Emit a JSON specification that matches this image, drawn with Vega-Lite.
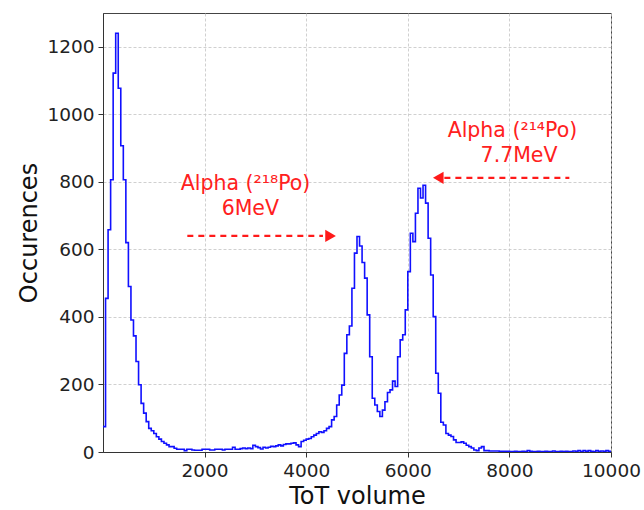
{
  "$schema": "https://vega.github.io/schema/vega-lite/v6.json",
  "width": 508,
  "height": 439,
  "autosize": {"type": "none"},
  "padding": {"left": 103, "top": 13, "right": 33, "bottom": 58},
  "background": "white",
  "config": {
    "font": "DejaVu Sans",
    "view": {"stroke": "#444", "strokeWidth": 1},
    "axis": {
      "labelFont": "DejaVu Sans",
      "titleFont": "DejaVu Sans",
      "labelFontSize": 18.5,
      "titleFontSize": 24,
      "titleFontWeight": "normal",
      "labelColor": "#222",
      "titleColor": "#111",
      "domainColor": "#333",
      "tickColor": "#333",
      "tickSize": 5,
      "gridColor": "#c4c4c4",
      "gridDash": [3, 2],
      "gridWidth": 0.8,
      "labelFlush": false,
      "labelOverlap": false,
      "format": "d"
    }
  },
  "datasets": {
    "hist": [
      {"tot": 0, "count": 75}, {"tot": 50, "count": 455}, {"tot": 100, "count": 658}, {"tot": 150, "count": 806},
      {"tot": 200, "count": 1122}, {"tot": 250, "count": 1240}, {"tot": 300, "count": 1077}, {"tot": 350, "count": 907},
      {"tot": 400, "count": 806}, {"tot": 450, "count": 620}, {"tot": 500, "count": 490}, {"tot": 550, "count": 391},
      {"tot": 600, "count": 344}, {"tot": 650, "count": 268}, {"tot": 700, "count": 199}, {"tot": 750, "count": 144},
      {"tot": 800, "count": 115}, {"tot": 850, "count": 90}, {"tot": 900, "count": 70}, {"tot": 950, "count": 63},
      {"tot": 1000, "count": 55}, {"tot": 1050, "count": 45}, {"tot": 1100, "count": 38}, {"tot": 1150, "count": 31},
      {"tot": 1200, "count": 26}, {"tot": 1250, "count": 21}, {"tot": 1300, "count": 16}, {"tot": 1350, "count": 16},
      {"tot": 1400, "count": 11}, {"tot": 1450, "count": 8}, {"tot": 1500, "count": 8}, {"tot": 1550, "count": 8},
      {"tot": 1600, "count": 4}, {"tot": 1650, "count": 8}, {"tot": 1700, "count": 8}, {"tot": 1750, "count": 6},
      {"tot": 1800, "count": 5}, {"tot": 1850, "count": 5}, {"tot": 1900, "count": 5}, {"tot": 1950, "count": 8},
      {"tot": 2000, "count": 8}, {"tot": 2050, "count": 8}, {"tot": 2100, "count": 6}, {"tot": 2150, "count": 6},
      {"tot": 2200, "count": 8}, {"tot": 2250, "count": 8}, {"tot": 2300, "count": 8}, {"tot": 2350, "count": 6},
      {"tot": 2400, "count": 8}, {"tot": 2450, "count": 8}, {"tot": 2500, "count": 8}, {"tot": 2550, "count": 14},
      {"tot": 2600, "count": 8}, {"tot": 2650, "count": 8}, {"tot": 2700, "count": 10}, {"tot": 2750, "count": 12},
      {"tot": 2800, "count": 10}, {"tot": 2850, "count": 12}, {"tot": 2900, "count": 10}, {"tot": 2950, "count": 20},
      {"tot": 3000, "count": 16}, {"tot": 3050, "count": 13}, {"tot": 3100, "count": 9}, {"tot": 3150, "count": 14},
      {"tot": 3200, "count": 12}, {"tot": 3250, "count": 14}, {"tot": 3300, "count": 17}, {"tot": 3350, "count": 16},
      {"tot": 3400, "count": 18}, {"tot": 3450, "count": 21}, {"tot": 3500, "count": 18}, {"tot": 3550, "count": 22},
      {"tot": 3600, "count": 24}, {"tot": 3650, "count": 24}, {"tot": 3700, "count": 26}, {"tot": 3750, "count": 27},
      {"tot": 3800, "count": 21}, {"tot": 3850, "count": 16}, {"tot": 3900, "count": 31}, {"tot": 3950, "count": 35},
      {"tot": 4000, "count": 38}, {"tot": 4050, "count": 40}, {"tot": 4100, "count": 45}, {"tot": 4150, "count": 50},
      {"tot": 4200, "count": 55}, {"tot": 4250, "count": 60}, {"tot": 4300, "count": 58}, {"tot": 4350, "count": 63},
      {"tot": 4400, "count": 70}, {"tot": 4450, "count": 75}, {"tot": 4500, "count": 95}, {"tot": 4550, "count": 105},
      {"tot": 4600, "count": 139}, {"tot": 4650, "count": 169}, {"tot": 4700, "count": 198}, {"tot": 4750, "count": 292},
      {"tot": 4800, "count": 347}, {"tot": 4850, "count": 373}, {"tot": 4900, "count": 485}, {"tot": 4950, "count": 589},
      {"tot": 5000, "count": 638}, {"tot": 5050, "count": 610}, {"tot": 5100, "count": 561}, {"tot": 5150, "count": 515},
      {"tot": 5200, "count": 406}, {"tot": 5250, "count": 282}, {"tot": 5300, "count": 159}, {"tot": 5350, "count": 139},
      {"tot": 5400, "count": 120}, {"tot": 5450, "count": 105}, {"tot": 5500, "count": 124}, {"tot": 5550, "count": 149},
      {"tot": 5600, "count": 176}, {"tot": 5650, "count": 184}, {"tot": 5700, "count": 210}, {"tot": 5750, "count": 194},
      {"tot": 5800, "count": 282}, {"tot": 5850, "count": 332}, {"tot": 5900, "count": 347}, {"tot": 5950, "count": 421},
      {"tot": 6000, "count": 534}, {"tot": 6050, "count": 648}, {"tot": 6100, "count": 623}, {"tot": 6150, "count": 707},
      {"tot": 6200, "count": 781}, {"tot": 6250, "count": 752}, {"tot": 6300, "count": 790}, {"tot": 6350, "count": 737},
      {"tot": 6400, "count": 633}, {"tot": 6450, "count": 524}, {"tot": 6500, "count": 401}, {"tot": 6550, "count": 233},
      {"tot": 6600, "count": 174}, {"tot": 6650, "count": 88}, {"tot": 6700, "count": 80}, {"tot": 6750, "count": 55},
      {"tot": 6800, "count": 50}, {"tot": 6850, "count": 46}, {"tot": 6900, "count": 36}, {"tot": 6950, "count": 28},
      {"tot": 7000, "count": 28}, {"tot": 7050, "count": 30}, {"tot": 7100, "count": 26}, {"tot": 7150, "count": 20},
      {"tot": 7200, "count": 16}, {"tot": 7250, "count": 12}, {"tot": 7300, "count": 6}, {"tot": 7350, "count": 4},
      {"tot": 7400, "count": 12}, {"tot": 7450, "count": 16}, {"tot": 7500, "count": 4}, {"tot": 7550, "count": 4},
      {"tot": 7600, "count": 3}, {"tot": 7650, "count": 3}, {"tot": 7700, "count": 3}, {"tot": 7750, "count": 3},
      {"tot": 7800, "count": 2}, {"tot": 7850, "count": 2}, {"tot": 7900, "count": 2}, {"tot": 7950, "count": 2},
      {"tot": 8000, "count": 1}, {"tot": 8050, "count": 1}, {"tot": 8100, "count": 2}, {"tot": 8150, "count": 1},
      {"tot": 8200, "count": 1}, {"tot": 8250, "count": 2}, {"tot": 8300, "count": 1}, {"tot": 8350, "count": 4},
      {"tot": 8400, "count": 2}, {"tot": 8450, "count": 1}, {"tot": 8500, "count": 1}, {"tot": 8550, "count": 2},
      {"tot": 8600, "count": 1}, {"tot": 8650, "count": 1}, {"tot": 8700, "count": 2}, {"tot": 8750, "count": 1},
      {"tot": 8800, "count": 1}, {"tot": 8850, "count": 3}, {"tot": 8900, "count": 1}, {"tot": 8950, "count": 1},
      {"tot": 9000, "count": 2}, {"tot": 9050, "count": 1}, {"tot": 9100, "count": 2}, {"tot": 9150, "count": 1},
      {"tot": 9200, "count": 1}, {"tot": 9250, "count": 3}, {"tot": 9300, "count": 2}, {"tot": 9350, "count": 4},
      {"tot": 9400, "count": 1}, {"tot": 9450, "count": 4}, {"tot": 9500, "count": 2}, {"tot": 9550, "count": 4},
      {"tot": 9600, "count": 2}, {"tot": 9650, "count": 1}, {"tot": 9700, "count": 4}, {"tot": 9750, "count": 2},
      {"tot": 9800, "count": 3}, {"tot": 9850, "count": 2}, {"tot": 9900, "count": 4}, {"tot": 9950, "count": 2},
      {"tot": 10000, "count": 2}
    ],
    "arrows": [
      {"tot": 1660, "tot2": 4330, "count": 640},
      {"tot": 6720, "tot2": 9180, "count": 812}
    ],
    "heads": [
      {"tot": 4480, "count": 640, "dir": "triangle-right"},
      {"tot": 6600, "count": 812, "dir": "triangle-left"}
    ],
    "labels": [
      {"tot": 2805, "count": 794, "label": "Alpha (²¹⁸Po)"},
      {"tot": 2900, "count": 720, "label": "6MeV"},
      {"tot": 8060, "count": 951, "label": "Alpha (²¹⁴Po)"},
      {"tot": 8190, "count": 877, "label": "7.7MeV"}
    ]
  },
  "layer": [
    {
      "data": {"name": "hist"},
      "mark": {"type": "line", "interpolate": "step-after", "color": "#1010ff", "strokeWidth": 1.6, "clip": true},
      "encoding": {
        "x": {
          "field": "tot", "type": "quantitative",
          "scale": {"domain": [0, 10000], "nice": false},
          "axis": {"values": [2000, 4000, 6000, 8000, 10000], "title": "ToT volume", "titlePadding": 5, "labelPadding": 4},
          "title": "ToT volume"
        },
        "y": {
          "field": "count", "type": "quantitative",
          "scale": {"domain": [0, 1300], "nice": false},
          "axis": {"values": [0, 200, 400, 600, 800, 1000, 1200], "title": "Occurences", "titlePadding": 5, "labelPadding": 4},
          "title": "Occurences"
        }
      }
    },
    {
      "data": {"name": "arrows"},
      "mark": {"type": "rule", "color": "#ff1a1a", "strokeWidth": 2.2, "strokeDash": [6, 5]},
      "encoding": {
        "x": {"field": "tot", "type": "quantitative", "title": "ToT volume"},
        "x2": {"field": "tot2"},
        "y": {"field": "count", "type": "quantitative", "title": "Occurences"}
      }
    },
    {
      "data": {"name": "heads"},
      "mark": {"type": "point", "filled": true, "color": "#ff1a1a", "opacity": 1, "size": 150},
      "encoding": {
        "x": {"field": "tot", "type": "quantitative", "title": "ToT volume"},
        "y": {"field": "count", "type": "quantitative", "title": "Occurences"},
        "shape": {"field": "dir", "type": "nominal", "scale": {"domain": ["triangle-right", "triangle-left"], "range": ["triangle-right", "triangle-left"]}, "legend": null}
      }
    },
    {
      "data": {"name": "labels"},
      "mark": {"type": "text", "color": "#ff2020", "font": "DejaVu Sans", "fontSize": 20.5, "align": "center", "baseline": "middle"},
      "encoding": {
        "x": {"field": "tot", "type": "quantitative", "title": "ToT volume"},
        "y": {"field": "count", "type": "quantitative", "title": "Occurences"},
        "text": {"field": "label", "type": "nominal"}
      }
    }
  ]
}
